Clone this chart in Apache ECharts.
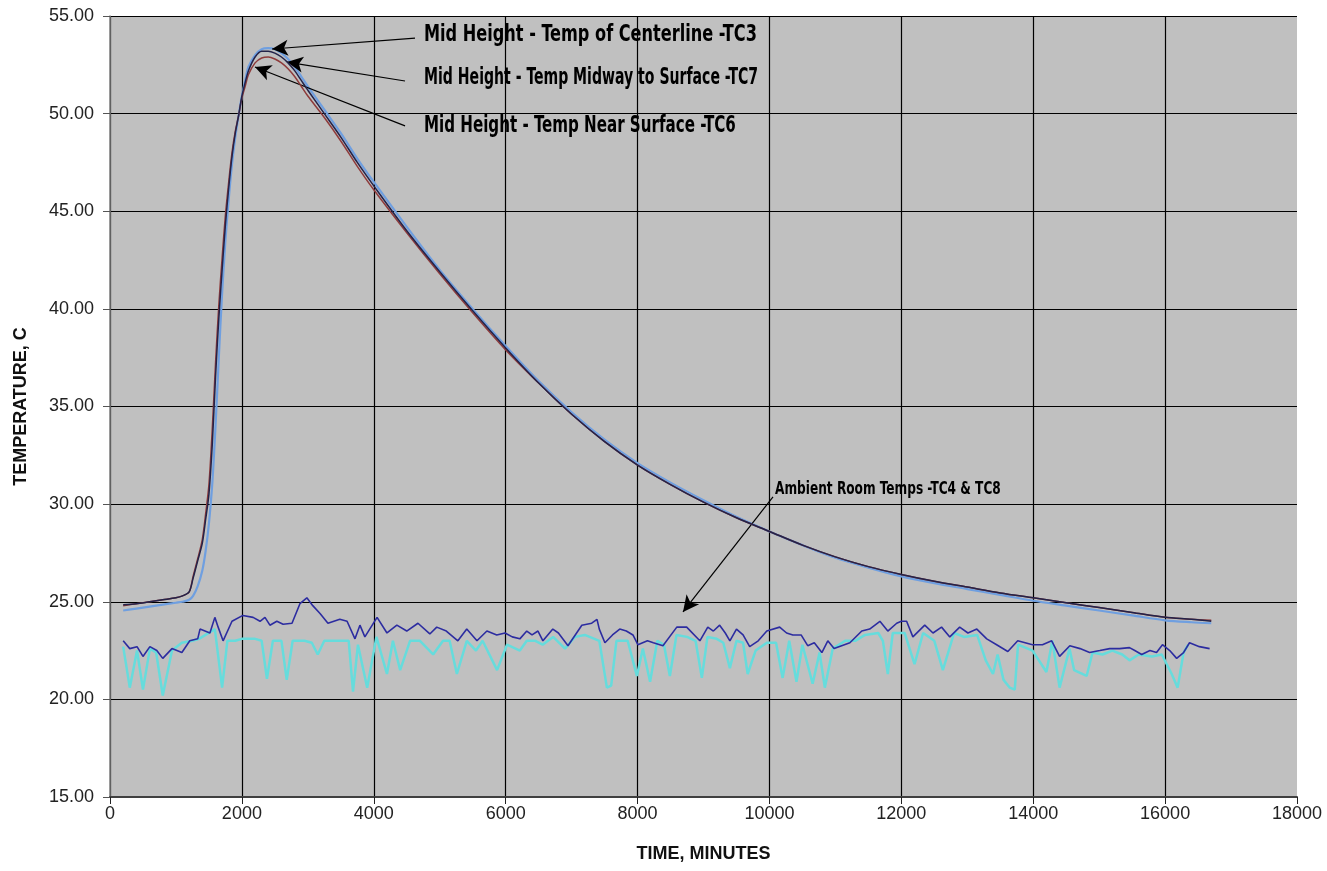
<!DOCTYPE html>
<html>
<head>
<meta charset="utf-8">
<script src="https://cdn.jsdelivr.net/npm/echarts@6/dist/echarts.min.js"></script>
<style>
  html, body { margin: 0; padding: 0; background: #fff; }
  #chart { width: 1327px; height: 871px; }
</style>
</head>
<body>
<div id="chart"></div>
<script>
// mid-height thermocouples, shared time base (minutes)
const mainTime = [200, 400, 600, 800, 1000, 1100, 1200, 1260, 1330, 1400, 1450, 1500, 1550, 1600, 1650,
  1700, 1750, 1800, 1850, 1900, 1950, 2000, 2050, 2100, 2200, 2300, 2400, 2500, 2600, 2700,
  2800, 2900, 3000, 3250, 3500, 3750, 4000, 4500, 5000, 5500, 6000, 6500, 7000, 7500, 8000,
  8500, 9000, 9500, 10000, 10500, 11000, 11500, 12000, 12500, 13000, 13500, 14000, 14500, 15000, 15500,
  16000, 16400, 16700];

const tc3 = [24.55, 24.65, 24.75, 24.85, 24.95, 25.0, 25.1, 25.3, 25.8, 26.6, 27.6, 29.0, 31.0, 34.0, 37.5,
  40.8, 43.5, 45.6, 47.4, 48.8, 49.9, 50.9, 51.7, 52.4, 53.0, 53.3, 53.35, 53.3, 53.1, 52.8,
  52.4, 51.9, 51.4, 50.2, 49.0, 47.7, 46.5, 44.2, 42.0, 40.0, 38.1, 36.3, 34.7, 33.3, 32.1,
  31.1, 30.2, 29.35, 28.6, 27.9, 27.25, 26.75, 26.3, 25.95, 25.65, 25.35, 25.05, 24.8, 24.55, 24.3,
  24.05, 23.95, 23.9];

const tc7 = [24.85, 24.9, 25.0, 25.1, 25.2, 25.3, 25.5, 26.2, 27.1, 28.0, 29.2, 30.5, 33.0, 36.5, 39.5,
  42.0, 44.3, 46.2, 47.8, 49.0, 49.9, 50.9, 51.6, 52.2, 52.9, 53.2, 53.2, 53.1, 52.9, 52.6,
  52.2, 51.7, 51.2, 50.0, 48.8, 47.5, 46.3, 44.0, 41.9, 39.9, 38.0, 36.2, 34.6, 33.2, 32.0,
  31.0, 30.1, 29.3, 28.6, 27.9, 27.3, 26.8, 26.4, 26.05, 25.75, 25.45, 25.2, 24.95, 24.7, 24.45,
  24.2, 24.1, 24.0];

const tc6 = [24.8, 24.9, 25.0, 25.1, 25.2, 25.3, 25.5, 26.3, 27.2, 28.2, 29.5, 31.0, 33.8, 37.2, 40.2,
  42.6, 44.8, 46.5, 48.0, 49.1, 49.9, 50.8, 51.4, 52.0, 52.6, 52.85, 52.9, 52.8, 52.6, 52.3,
  51.9, 51.4, 50.9, 49.8, 48.6, 47.3, 46.1, 43.9, 41.8, 39.8, 37.9, 36.2, 34.6, 33.2, 32.0,
  31.0, 30.1, 29.3, 28.6, 27.9, 27.3, 26.8, 26.4, 26.05, 25.75, 25.45, 25.2, 24.95, 24.7, 24.45,
  24.2, 24.1, 24.05];

// ambient room temps [minutes, C]
const tc4 = [[200, 23.0], [300, 22.6], [410, 22.7], [500, 22.2], [605, 22.7], [710, 22.5], [800, 22.1], [940, 22.6],
  [1090, 22.4], [1210, 23.0], [1330, 23.1], [1365, 23.6], [1515, 23.4], [1590, 24.2], [1640, 23.7], [1715, 23.0],
  [1850, 24.0], [2015, 24.3], [2170, 24.2], [2275, 24.0], [2350, 24.2], [2425, 23.8], [2530, 24.0], [2625, 23.85],
  [2760, 23.9], [2880, 24.9], [2985, 25.2], [3075, 24.8], [3185, 24.4], [3305, 23.9], [3485, 24.1], [3595, 24.0],
  [3715, 23.1], [3790, 23.8], [3865, 23.2], [4050, 24.2], [4200, 23.4], [4350, 23.8], [4500, 23.5], [4670, 23.9],
  [4850, 23.35], [4955, 23.7], [5100, 23.5], [5275, 23.0], [5410, 23.6], [5565, 23.0], [5715, 23.5], [5865, 23.3],
  [5990, 23.4], [6100, 23.2], [6215, 23.1], [6320, 23.5], [6400, 23.3], [6490, 23.5], [6565, 23.0], [6715, 23.6],
  [6800, 23.4], [6945, 22.75], [7155, 23.8], [7305, 23.9], [7385, 24.1], [7420, 23.6], [7505, 22.9], [7620, 23.3],
  [7730, 23.6], [7830, 23.5], [7930, 23.3], [8005, 22.8], [8150, 23.0], [8240, 22.9], [8385, 22.75], [8595, 23.7],
  [8745, 23.7], [8945, 23.0], [9065, 23.7], [9150, 23.5], [9245, 23.8], [9330, 23.4], [9400, 23.0], [9500, 23.6],
  [9600, 23.3], [9700, 22.7], [9830, 23.0], [9960, 23.5], [10155, 23.7], [10260, 23.4], [10355, 23.3], [10480, 23.3],
  [10580, 22.75], [10680, 22.9], [10795, 22.4], [10885, 23.0], [10980, 22.6], [11220, 22.9], [11400, 23.5], [11520, 23.6],
  [11675, 24.0], [11795, 23.5], [11930, 23.9], [12000, 24.0], [12080, 24.0], [12175, 23.2], [12355, 23.8], [12480, 23.4],
  [12610, 23.7], [12735, 23.2], [12885, 23.7], [13010, 23.4], [13145, 23.6], [13295, 23.1], [13445, 22.8], [13615, 22.45],
  [13765, 23.0], [13990, 22.8], [14140, 22.8], [14280, 23.0], [14400, 22.2], [14555, 22.75], [14710, 22.6], [14855, 22.4],
  [15010, 22.5], [15160, 22.6], [15310, 22.6], [15460, 22.65], [15540, 22.5], [15645, 22.3], [15770, 22.5], [15870, 22.4],
  [15960, 22.8], [16070, 22.5], [16175, 22.1], [16280, 22.4], [16370, 22.9], [16520, 22.7], [16675, 22.6]];

const tc8 = [[200, 22.7], [300, 20.6], [410, 22.5], [500, 20.5], [605, 22.6], [700, 22.4], [800, 20.2], [940, 22.5],
  [1090, 22.9], [1250, 23.0], [1350, 23.1], [1590, 23.6], [1700, 20.6], [1780, 23.0], [1900, 23.0], [2000, 23.1],
  [2200, 23.1], [2300, 23.0], [2380, 21.05], [2470, 23.0], [2600, 23.0], [2680, 21.0], [2770, 23.0], [2950, 23.0],
  [3060, 22.9], [3150, 22.3], [3250, 23.0], [3550, 23.0], [3620, 23.0], [3685, 20.4], [3760, 22.8], [3900, 20.6],
  [4040, 23.2], [4200, 21.3], [4290, 23.0], [4400, 21.5], [4550, 23.0], [4700, 23.0], [4900, 22.3], [5050, 23.0],
  [5150, 23.0], [5260, 21.3], [5410, 23.0], [5550, 22.5], [5650, 23.0], [5870, 21.5], [5950, 22.2], [6020, 22.8],
  [6215, 22.5], [6320, 23.0], [6450, 23.0], [6560, 22.8], [6720, 23.2], [6900, 22.6], [7050, 23.2], [7200, 23.3],
  [7420, 23.0], [7535, 20.6], [7600, 20.7], [7680, 23.0], [7850, 23.0], [7990, 21.2], [8080, 22.6], [8190, 20.9],
  [8300, 23.0], [8400, 22.8], [8490, 21.2], [8590, 23.3], [8750, 23.2], [8880, 23.0], [8975, 21.1], [9060, 23.2],
  [9200, 23.1], [9300, 22.9], [9400, 21.6], [9500, 23.0], [9600, 22.9], [9670, 21.3], [9790, 22.5], [9960, 22.9],
  [10100, 22.9], [10200, 21.1], [10300, 23.0], [10410, 20.9], [10500, 22.8], [10655, 20.8], [10760, 22.4], [10840, 20.6],
  [10960, 22.6], [11150, 23.0], [11300, 23.0], [11450, 23.3], [11650, 23.4], [11720, 23.0], [11795, 21.3], [11870, 23.4],
  [12050, 23.4], [12200, 21.8], [12330, 23.4], [12500, 23.0], [12630, 21.5], [12800, 23.4], [12950, 23.2], [13150, 23.3],
  [13280, 22.0], [13390, 21.3], [13460, 22.3], [13550, 21.0], [13645, 20.6], [13720, 20.5], [13770, 22.8], [13990, 22.5],
  [14200, 21.4], [14290, 23.0], [14400, 20.6], [14550, 22.6], [14620, 21.5], [14810, 21.2], [14900, 22.4], [15050, 22.3],
  [15200, 22.5], [15350, 22.3], [15460, 22.0], [15600, 22.3], [15800, 22.2], [15950, 22.3], [16100, 21.3], [16190, 20.6],
  [16280, 22.4], [16350, 22.8]];

// callouts: text anchor and arrow (tail -> head), all in data units
const callouts = [
  { text: 'Mid Height - Temp of Centerline -TC3', at: [4762, 54.03], tail: [4625, 53.87], head: [2457, 53.31] },
  { text: 'Mid Height - Temp Midway to Surface -TC7', at: [4762, 51.8], tail: [4474, 51.67], head: [2684, 52.64] },
  { text: 'Mid Height - Temp Near Surface -TC6', at: [4762, 49.35], tail: [4474, 49.37], head: [2199, 52.39] },
];
const ambientCallout = { text: 'Ambient Room Temps -TC4 & TC8', at: [10085, 30.78], tail: [10054, 30.37], head: [8689, 24.48] };

// horizontal squeeze per callout row, to get the narrow look of the original lettering
const calloutSqueeze = [0.78, 0.68, 0.73];

const pair = (ys) => mainTime.map((t, i) => [t, ys[i]]);
const condensed = "'DejaVu Sans Condensed', 'Liberation Sans Narrow', sans-serif";
const sans = "'Liberation Sans', Arial, sans-serif";

const chart = echarts.init(document.getElementById('chart'), null, { renderer: 'canvas' });

const arrowLines = {
  silent: true, symbol: ['none', 'arrow'], symbolSize: [12, 16],
  label: { show: false },
  lineStyle: { color: '#000', width: 1.2, type: 'solid' },
};

chart.setOption({
  animation: false,
  backgroundColor: '#ffffff',
  grid: {
    left: 110, right: 30, top: 16, bottom: 74,
    show: true, backgroundColor: '#c0c0c0', borderWidth: 0,
  },
  xAxis: {
    type: 'value',
    min: 0, max: 18000, interval: 2000,
    name: 'TIME, MINUTES',
    nameLocation: 'middle',
    nameGap: 48,
    nameTextStyle: { fontFamily: sans, fontWeight: 'bold', fontSize: 18, color: '#111' },
    axisLine: { lineStyle: { color: '#404040', width: 2 } },
    axisTick: { length: 7, lineStyle: { color: '#222' } },
    axisLabel: { fontFamily: sans, fontSize: 18, color: '#222', margin: 8, formatter: (v) => String(v) },
    splitLine: { show: true, showMaxLine: false, lineStyle: { color: '#000', width: 1.2 } },
  },
  yAxis: {
    type: 'value',
    min: 15, max: 55, interval: 5,
    name: 'TEMPERATURE, C',
    nameLocation: 'middle',
    nameGap: 80,
    nameTextStyle: { fontFamily: sans, fontWeight: 'bold', fontSize: 18, color: '#111' },
    axisLine: { show: true, lineStyle: { color: '#808080', width: 1.5 } },
    axisTick: { show: true, length: 7, lineStyle: { color: '#555' } },
    axisLabel: { fontFamily: sans, fontSize: 18, color: '#222', margin: 16, formatter: (v) => v.toFixed(2) },
    splitLine: { show: true, showMinLine: false, lineStyle: { color: '#000', width: 1.2 } },
  },
  series: [
    {
      name: 'TC8', type: 'line', data: tc8, showSymbol: false,
      lineStyle: { color: '#66dcdc', width: 2.5 }, z: 2,
    },
    {
      name: 'TC4', type: 'line', data: tc4, showSymbol: false,
      lineStyle: { color: '#2c2ca0', width: 1.6 }, z: 3,
      markLine: Object.assign({}, arrowLines, {
        data: [[{ coord: ambientCallout.tail }, { coord: ambientCallout.head }]],
      }),
    },
    {
      name: 'TC3', type: 'line', data: pair(tc3), showSymbol: false, smooth: 0.3,
      lineStyle: { color: '#6f9fe0', width: 2.2 }, z: 4,
    },
    {
      name: 'TC6', type: 'line', data: pair(tc6), showSymbol: false, smooth: 0.3,
      lineStyle: { color: '#8e3b3b', width: 1.5 }, z: 5,
    },
    {
      name: 'TC7', type: 'line', data: pair(tc7), showSymbol: false, smooth: 0.3,
      lineStyle: { color: '#23234a', width: 1.5 }, z: 6,
      markLine: Object.assign({}, arrowLines, {
        data: callouts.map((c) => [{ coord: c.tail }, { coord: c.head }]),
      }),
    },
  ],
});

// callout texts: placed from data coords via the chart's own scales
const toPx = (coord) => chart.convertToPixel({ xAxisIndex: 0, yAxisIndex: 0 }, coord);
const calloutText = (c, size, squeeze) => {
  const p = toPx(c.at);
  return {
    type: 'text', x: p[0], y: p[1], scaleX: squeeze, z: 100, silent: true,
    style: { text: c.text, font: `bold ${size}px ${condensed}`, fill: '#000', align: 'left', verticalAlign: 'middle' },
  };
};
chart.setOption({
  graphic: callouts.map((c, i) => calloutText(c, 23, calloutSqueeze[i]))
    .concat([calloutText(ambientCallout, 18, 0.75)]),
});
</script>
</body>
</html>
